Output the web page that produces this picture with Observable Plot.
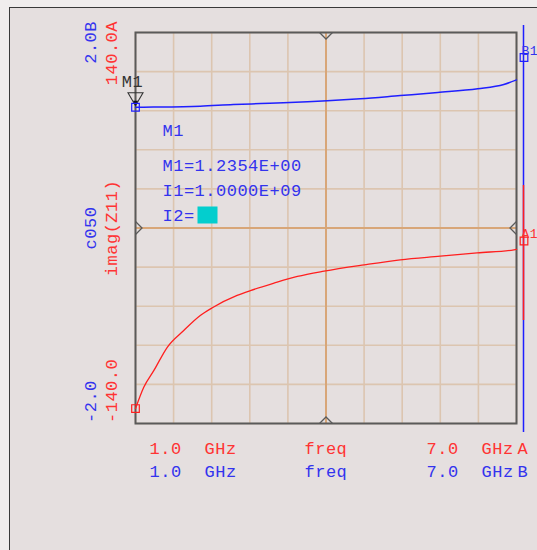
<!DOCTYPE html>
<html><head><meta charset="utf-8">
<script src="https://cdn.jsdelivr.net/npm/d3@7"></script>
<script src="https://cdn.jsdelivr.net/npm/@observablehq/plot@0.6"></script>
<style>
html,body{margin:0;padding:0;background:#f0eded;width:537px;height:550px;overflow:hidden;}
#panel{position:absolute;left:9px;top:7px;width:528px;height:543px;background:#e5dfdf;border-left:1px solid #3a3a3a;border-top:1px solid #3a3a3a;}
#chart{position:absolute;left:0;top:0;}
#chart svg text{letter-spacing:0.5px;}
</style></head><body>
<div id="panel"></div><div id="chart"></div>
<script>
// ---- data ----
const freqA   = [1.0, 1.13, 1.29, 1.50, 1.76, 2.02, 2.21, 2.60, 2.81, 3.18, 3.55, 3.97, 4.60, 5.17, 5.80, 6.38, 6.96, 7.0];
const imagZ11 = [-129.3, -114.0, -102.0, -85.4, -73.4, -62.7, -57.1, -48.3, -44.8, -39.5, -34.7, -30.9, -26.4, -22.8, -20.2, -17.8, -15.6, -15.3];
const freqB   = [1.0, 1.28, 2.02, 2.54, 2.97, 3.33, 3.71, 4.02, 4.54, 5.17, 5.76, 6.39, 6.80, 7.0];
const c050    = [1.2354, 1.237, 1.246, 1.263, 1.273, 1.281, 1.291, 1.301, 1.322, 1.355, 1.386, 1.424, 1.468, 1.515];
const freqRange = [1.0, 7.0];
const rangeA = [-140.0, 140.0];
const rangeB = [-2.0, 2.0];
const gridFreqs = [1.0, 1.6, 2.2, 2.8, 3.4, 4.0, 4.6, 5.2, 5.8, 6.4, 7.0];
const gridA = [-140, -112, -84, -56, -28, 0, 28, 56, 84, 112, 140];
const leftLabelsB = ["2.0B", "c050", "-2.0"];
const leftLabelsA = ["140.0A", "imag(Z11)", "-140.0"];
const bottomLabelsA = ["1.0", "GHz", "freq", "7.0", "GHz", "A"];
const bottomLabelsB = ["1.0", "GHz", "freq", "7.0", "GHz", "B"];
const markerName = "M1";
const markerFreq = 1.0;
const markerValue = 1.2354;
const markerReadout = ["M1", "M1=1.2354E+00", "I1=1.0000E+09", "I2="];
const rightLabels = ["B1", "A1"];

// ---- rendering ----
const k = rangeA[1] / rangeB[1];
const BLUE = "#1f1fff", RED = "#ff1f1f", BLUE_T = "#3333ee", RED_T = "#ff3333";
const GRID = "#dcc5b0", GRID_C = "#d8a678", FRAME = "#5a5a5a";
const FONT = "'Liberation Mono','DejaVu Sans Mono',monospace";
const FS = 17;

const sym = (fn) => ({draw(ctx) { fn(ctx); }});
const vDown  = sym(c => { c.moveTo(-6.5, 0); c.lineTo(0, 6.5); c.lineTo(6.5, 0); });
const vUp    = sym(c => { c.moveTo(-6.5, 0); c.lineTo(0, -6.5); c.lineTo(6.5, 0); });
const vRight = sym(c => { c.moveTo(0, -6.5); c.lineTo(6.5, 0); c.lineTo(0, 6.5); });
const vLeft  = sym(c => { c.moveTo(0, -6.5); c.lineTo(-6.5, 0); c.lineTo(0, 6.5); });
const mTri   = sym(c => { c.moveTo(-7.5, -13); c.lineTo(7.5, -13); c.lineTo(0, 0); c.closePath(); });
const mTip   = sym(c => { c.moveTo(-2.5, -5); c.lineTo(2.5, -5); c.lineTo(0, 0); c.closePath(); });
const box    = sym(c => { c.rect(-10, -8, 20, 17); });

const curveA = freqA.map((f, i) => ({f, v: imagZ11[i]}));
const curveB = freqB.map((f, i) => ({f, v: c050[i] * k}));

const readoutDy = [97.6, 132.6, 157.6, 182.6];
const bottomDx = [14, 69, 169, 291, 346, 382];
const T = {fontSize: FS, fontFamily: FONT, lineAnchor: "middle"};

const marks = [
  Plot.ruleX(gridFreqs.filter(f => f !== 4.0), {x: d => d, stroke: GRID, strokeWidth: 1.6}),
  Plot.ruleY(gridA.filter(v => v !== 0), {y: d => d, stroke: GRID, strokeWidth: 1.6}),
  Plot.ruleX([4.0], {stroke: GRID_C, strokeWidth: 2}),
  Plot.ruleY([0], {stroke: GRID_C, strokeWidth: 2}),
  Plot.frame({stroke: FRAME, strokeWidth: 2}),
  Plot.dot([4.0], {x: d => d, frameAnchor: "top", symbol: vDown, r: 3, stroke: FRAME, fill: "none", strokeWidth: 1.3}),
  Plot.dot([4.0], {x: d => d, frameAnchor: "bottom", symbol: vUp, r: 3, stroke: FRAME, fill: "none", strokeWidth: 1.3}),
  Plot.dot([0], {y: d => d, frameAnchor: "left", symbol: vRight, r: 3, stroke: FRAME, fill: "none", strokeWidth: 1.3}),
  Plot.dot([0], {y: d => d, frameAnchor: "right", symbol: vLeft, r: 3, stroke: FRAME, fill: "none", strokeWidth: 1.3}),
  // curves
  Plot.line(curveA, {x: "f", y: "v", stroke: RED, strokeWidth: 1.3, curve: "monotone-x"}),
  Plot.line(curveB, {x: "f", y: "v", stroke: BLUE, strokeWidth: 1.5, curve: "monotone-x"}),
  // right-side indicator lines
  Plot.ruleX([freqRange[1]], {dx: 7, stroke: BLUE, strokeWidth: 1.5, insetTop: -7, insetBottom: -9}),
  Plot.ruleX([freqRange[1]], {dx: 7, stroke: RED, strokeWidth: 1.5, insetTop: 153, insetBottom: 103}),
  Plot.dot([0], {frameAnchor: "top-right", dx: 7.5, dy: 25, symbol: "square", r: 4.3, stroke: BLUE, fill: "none", strokeWidth: 1.2}),
  Plot.dot([0], {frameAnchor: "right", dx: 7.5, dy: 13, symbol: "square", r: 4.3, stroke: RED, fill: "none", strokeWidth: 1.2}),
  Plot.text([rightLabels[0]], {...T, fontSize: 13, text: d => d, frameAnchor: "top-right", dx: 5, dy: 18, textAnchor: "start", fill: BLUE_T}),
  Plot.text([rightLabels[1]], {...T, fontSize: 13, text: d => d, frameAnchor: "right", dx: 5, dy: 6, textAnchor: "start", fill: RED_T}),
  // marker M1
  Plot.dot([markerFreq], {x: d => d, y: () => markerValue * k, dy: -1.5, symbol: mTri, r: 3, stroke: "#333", fill: "none", strokeWidth: 1.1}),
  Plot.dot([markerFreq], {x: d => d, y: () => markerValue * k, dy: -1.5, symbol: mTip, r: 3, fill: "#111"}),
  Plot.dot([markerFreq], {x: d => d, y: () => markerValue * k, symbol: "square", r: 4.3, stroke: BLUE, fill: "none", strokeWidth: 1.2}),
  Plot.text([markerName], {...T, x: () => markerFreq, y: () => markerValue * k, text: d => d, dx: -3, dy: -25.5, fill: "#333"}),
  Plot.dot([curveA[0]], {x: "f", y: "v", symbol: "square", r: 4.3, stroke: RED, fill: "none", strokeWidth: 1.2}),
  // readout
  ...markerReadout.map((t, i) => Plot.text([t], {...T, text: d => d, frameAnchor: "top-left", dx: 27, dy: readoutDy[i], textAnchor: "start", fill: BLUE_T})),
  Plot.dot([0], {frameAnchor: "top-left", dx: 72, dy: 182, symbol: box, r: 3, fill: "url(#cyanDots)", stroke: "none"}),
  // left axis labels (rotated)
  Plot.text([leftLabelsB[0]], {...T, text: d => d, frameAnchor: "top-left", dx: -45, dy: -11.5, rotate: -90, textAnchor: "end", fill: BLUE_T}),
  Plot.text([leftLabelsA[0]], {...T, text: d => d, frameAnchor: "top-left", dx: -24, dy: -11.5, rotate: -90, textAnchor: "end", fill: RED_T}),
  Plot.text([leftLabelsB[1]], {...T, text: d => d, frameAnchor: "left", dx: -45, rotate: -90, textAnchor: "middle", fill: BLUE_T}),
  Plot.text([leftLabelsA[1]], {...T, text: d => d, frameAnchor: "left", dx: -24, rotate: -90, textAnchor: "middle", fill: RED_T}),
  Plot.text([leftLabelsB[2]], {...T, text: d => d, frameAnchor: "bottom-left", dx: -45, dy: -0.5, rotate: -90, textAnchor: "start", fill: BLUE_T}),
  Plot.text([leftLabelsA[2]], {...T, text: d => d, frameAnchor: "bottom-left", dx: -24, dy: -0.5, rotate: -90, textAnchor: "start", fill: RED_T}),
  // bottom labels
  ...bottomLabelsA.map((t, i) => Plot.text([t], {...T, text: d => d, frameAnchor: "bottom-left", dx: bottomDx[i], dy: 25, textAnchor: "start", fill: RED_T})),
  ...bottomLabelsB.map((t, i) => Plot.text([t], {...T, text: d => d, frameAnchor: "bottom-left", dx: bottomDx[i], dy: 48.5, textAnchor: "start", fill: BLUE_T}))
];

const svg = Plot.plot({
  width: 537,
  height: 550,
  marginLeft: 135,
  marginRight: 21,
  marginTop: 32,
  marginBottom: 127,
  x: {domain: freqRange, axis: null},
  y: {domain: rangeA, axis: null},
  style: {background: "transparent", fontFamily: FONT, fontSize: "17px", color: "#333", overflow: "visible"},
  marks
});

const defs = d3.select(svg).insert("defs", ":first-child");
const pat = defs.append("pattern").attr("id", "cyanDots").attr("patternUnits", "userSpaceOnUse").attr("width", 2).attr("height", 2);
pat.append("rect").attr("width", 2).attr("height", 2).attr("fill", "#00eded");
pat.append("rect").attr("width", 1).attr("height", 1).attr("fill", "#0b7070");

document.getElementById("chart").appendChild(svg);
</script></body></html>
